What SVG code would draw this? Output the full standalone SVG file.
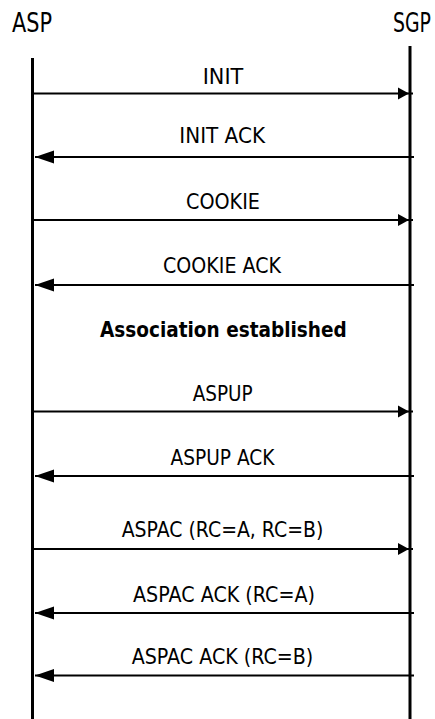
<svg xmlns="http://www.w3.org/2000/svg" width="435" height="719" viewBox="0 0 435 719">
  <style>
    .lifeline { stroke: #000; stroke-width: 3; fill: none; }
    .msg { stroke: #000; stroke-width: 2; fill: none; }
    .to-sgp { marker-end: url(#headRight); }
    .to-asp { marker-end: url(#headLeft); }
    .actor { font-family: "DejaVu Sans", "Noto Sans", sans-serif; font-size: 26px; fill: #000; }
    .label { font-family: "DejaVu Sans", "Noto Sans", sans-serif; font-size: 21px; fill: #000; }
    .note { font-family: "DejaVu Sans", "Noto Sans", sans-serif; font-size: 21px; font-weight: bold; fill: #000; }
  </style>
  <defs>
    <!-- short head for messages towards SGP -->
    <marker id="headRight" markerUnits="userSpaceOnUse" markerWidth="16" markerHeight="14" viewBox="0 0 16 14" refX="15" refY="7" orient="auto">
      <polygon points="0,1 11,7 0,13" fill="#000"/>
    </marker>
    <!-- long head for messages towards ASP -->
    <marker id="headLeft" markerUnits="userSpaceOnUse" markerWidth="20" markerHeight="14" viewBox="0 0 20 14" refX="19" refY="7" orient="auto">
      <polygon points="0,0.5 19,7 0,13.5" fill="#000"/>
    </marker>
  </defs>

  <g id="asp">
    <text class="actor" x="12" y="32" textLength="40" lengthAdjust="spacingAndGlyphs">ASP</text>
    <line class="lifeline" x1="32.5" y1="58" x2="32.5" y2="719"/>
  </g>
  <g id="sgp">
    <text class="actor" x="393" y="32" textLength="38" lengthAdjust="spacingAndGlyphs">SGP</text>
    <line class="lifeline" x1="410" y1="46" x2="410" y2="719"/>
  </g>

  <g id="connectors">
    <path class="msg to-sgp" d="M34,93.5 H413"/>
    <path class="msg to-asp" d="M414,157 H35"/>
    <path class="msg to-sgp" d="M34,220 H413"/>
    <path class="msg to-asp" d="M414,285 H35"/>
    <path class="msg to-sgp" d="M34,411.5 H413"/>
    <path class="msg to-asp" d="M414,476 H35"/>
    <path class="msg to-sgp" d="M34,549 H413"/>
    <path class="msg to-asp" d="M414,613 H35"/>
    <path class="msg to-asp" d="M414,675.5 H35"/>
  </g>

  <g id="labels">
    <text class="label" x="202.7" y="84" textLength="40.6" lengthAdjust="spacingAndGlyphs">INIT</text>
    <text class="label" x="179.3" y="143" textLength="85.7" lengthAdjust="spacingAndGlyphs">INIT ACK</text>
    <text class="label" x="186" y="208.5" textLength="74" lengthAdjust="spacingAndGlyphs">COOKIE</text>
    <text class="label" x="163" y="273" textLength="118" lengthAdjust="spacingAndGlyphs">COOKIE ACK</text>
    <text class="note" x="100" y="337" textLength="246.7" lengthAdjust="spacingAndGlyphs">Association established</text>
    <text class="label" x="192.7" y="400.7" textLength="60" lengthAdjust="spacingAndGlyphs">ASPUP</text>
    <text class="label" x="170.5" y="464.5" textLength="104" lengthAdjust="spacingAndGlyphs">ASPUP ACK</text>
    <text class="label" x="121.7" y="536.7" textLength="201.6" lengthAdjust="spacingAndGlyphs">ASPAC (RC=A, RC=B)</text>
    <text class="label" x="133" y="601.7" textLength="182" lengthAdjust="spacingAndGlyphs">ASPAC ACK (RC=A)</text>
    <text class="label" x="131.7" y="664" textLength="181.6" lengthAdjust="spacingAndGlyphs">ASPAC ACK (RC=B)</text>
  </g>
</svg>
